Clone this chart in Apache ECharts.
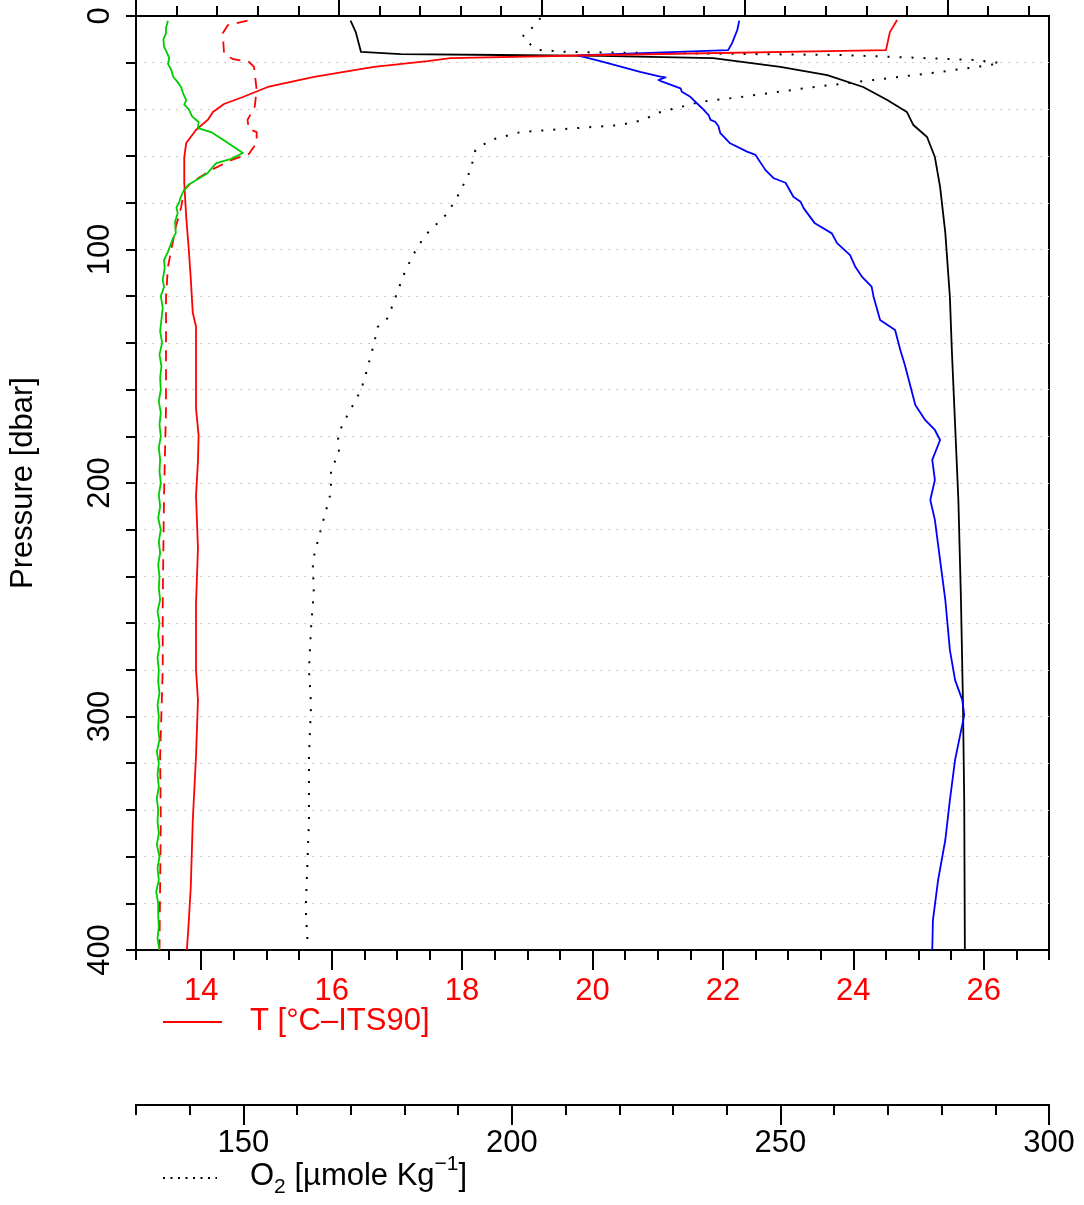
<!DOCTYPE html>
<html>
<head>
<meta charset="utf-8">
<script src="https://cdn.jsdelivr.net/npm/echarts@6/dist/echarts.min.js"></script>
<style>
html,body{margin:0;padding:0;background:#fff;}
#chart{width:1084px;height:1205px;}
</style>
</head>
<body>
<div id="chart"></div>
<script>
// ---- data (pressure in dbar) ----
// Temperature profile, T [°C-ITS90]
const tempP = [1.7,6.9,14.6,15.4,16.7,18.0,19.3,21.8,26.1,30.4,34.7,37.7,41.1,44.5,48.8,54.4,60.4,71.5,86.1,100.2,112.6,127,133,168,179.6,190.7,205.6,227.8,252,280,293,317,345,373,392,400];
const tempV = [24.67,24.56,24.50,24.48,20.2,17.82,17.47,16.65,15.73,15.02,14.64,14.35,14.18,14.10,13.92,13.77,13.74,13.74,13.77,13.81,13.84,13.87,13.92,13.92,13.96,13.95,13.92,13.95,13.92,13.92,13.95,13.92,13.87,13.84,13.80,13.78];
// Dashed red profile (in T-axis units)
const dashP = [2.0,3.9,7.4,16,18.5,19.6,21.8,31.7,38.9,44.5,48.4,49.7,54.4,59.1,61.7,66,71.5,74.5,82.2,90.4,100.2,107.5,120.3,168,205,250,280,317,345,400];
const dashV = [14.71,14.41,14.33,14.35,14.49,14.73,14.81,14.85,14.82,14.71,14.73,14.85,14.85,14.73,14.46,14.15,13.84,13.74,13.69,13.61,13.54,13.49,13.46,13.46,13.43,13.41,13.41,13.37,13.38,13.36];
// Green profile (in T-axis units)
const greenP = [2.0,5,7.4,10,13.1,15.5,18,20.5,23,26,28,30.4,33,36,38,40,43,45.4,48,49.7,52.4,58.7,61.2,63,67.2,72.4,75.4,78,80,82,84.4,88,93,95,97.2,101,104.5,108,113,116,120,125,130,135,140,145,150,155,160,165,170,175,180,185,190,195,200,205,210,215,220,225,230,235,240,245,250,255,260,265,270,275,280,285,290,295,300,305,310,315,320,325,330,335,340,345,350,355,360,365,370,375,380,385,390,395,400];
const greenV = [13.49,13.46,13.46,13.42,13.43,13.47,13.51,13.49,13.54,13.57,13.63,13.69,13.72,13.77,13.74,13.81,13.86,13.96,13.95,14.15,14.30,14.64,14.46,14.23,14.10,13.80,13.72,13.68,13.66,13.62,13.64,13.60,13.61,13.57,13.54,13.49,13.43,13.44,13.41,13.43,13.38,13.41,13.39,13.37,13.40,13.36,13.39,13.37,13.38,13.35,13.38,13.36,13.38,13.35,13.37,13.36,13.38,13.35,13.37,13.34,13.38,13.35,13.37,13.34,13.36,13.35,13.37,13.33,13.36,13.34,13.36,13.33,13.35,13.34,13.36,13.33,13.35,13.34,13.36,13.32,13.35,13.33,13.35,13.32,13.34,13.33,13.35,13.32,13.36,13.33,13.35,13.31,13.34,13.34,13.35,13.33,13.36];
// Black solid profile (in T-axis units)
const blackP = [2.0,6.9,15.4,16.3,16.7,17.1,18,21.8,25.3,30.4,36,41.1,46.7,51.8,60.4,73.2,92.9,120.3,143,207,250,293,336,400];
const blackV = [16.29,16.37,16.45,17.06,18.59,20.12,21.85,22.88,23.60,24.15,24.52,24.82,24.92,25.13,25.25,25.33,25.41,25.48,25.51,25.61,25.65,25.68,25.70,25.71];
// Blue profile (in T-axis units)
const blueP = [2.0,6.0,11.6,14.6,15.4,16.9,19.3,23.9,26.0,26.3,27.4,28.1,31.0,32.4,34.6,39.5,42.4,44.5,45.3,47.1,50.2,54.5,58.1,59.5,65.9,69.5,71.4,77.4,79.5,82.4,88.8,93.1,97.3,102.4,107.4,111.6,115.9,120.2,130.2,134.5,143,149.5,158,166.6,173,177.3,181.6,190.1,198.7,207.3,215.8,233,250.1,271.5,284.4,292.9,299.4,318.6,335.8,352.9,370,387.2,400];
const blueV = [22.25,22.22,22.14,22.08,22.08,19.77,20.12,20.73,21.04,21.12,21.01,21.07,21.35,21.37,21.50,21.68,21.78,21.81,21.88,21.93,21.96,22.11,22.37,22.50,22.65,22.78,22.96,23.08,23.19,23.24,23.41,23.67,23.75,23.95,24.03,24.13,24.28,24.31,24.41,24.64,24.72,24.79,24.87,24.95,25.10,25.25,25.33,25.21,25.25,25.18,25.25,25.33,25.41,25.48,25.56,25.67,25.70,25.56,25.48,25.41,25.30,25.22,25.21];
// Oxygen profile, O2 [µmole/kg]
const oxyP = [0.9,4.7,6.9,9.0,11.1,13.3,14.6,15.4,15.8,16.7,18.8,20.1,21,24,27.4,30.8,34.7,36.8,41.5,44.5,46.7,49.7,53.1,57.4,66,74.5,78.8,85.2,89.5,93.8,100.2,108.8,114.3,129.3,133.2,140.5,153.3,160.2,168.3,173.9,179.4,187.1,194.4,203.9,215,224.4,233.4,246.7,261.7,280,295,317.3,345.2,382.4,399];
const oxyV = [205.3,204.0,202.5,202.0,202.9,204.0,205.3,210.4,223.9,261.1,285.9,290.9,289.0,279.7,267.3,255.0,242.5,235.1,227.1,224.5,220.2,201.6,196.0,193.2,192.3,190.5,189.5,187.7,185.8,183.9,182.1,180.2,179.3,176.9,175.0,174.3,172.8,171.9,170.0,168.7,167.6,167.8,166.3,166.3,165.0,163.9,162.9,163.1,162.6,162.2,162.6,162.2,162.2,161.6,162.0];

// ---- axis ticks / labels ----
const tLabels = [14,16,18,20,22,24,26];
const oxyLabels = [150,200,250,300];
const pLabels = [0,100,200,300,400];
const topMajor = [0,1,2,3,4];
const topMinor = [0.2,0.4,0.6,0.8,1.2,1.4,1.6,1.8,2.2,2.4,2.6,2.8,3.2,3.4,3.6,3.8,4.2,4.4];

const zip = (xs, ps) => xs.map((v, i) => [v, ps[i]]);
const FONT = '"Liberation Sans", Arial, Helvetica, sans-serif';
const FS = 31;

const chart = echarts.init(document.getElementById('chart'), null, {renderer: 'canvas'});

const lineSeries = (name, xs, ps, color, xIdx, type, width) => ({
  name, type: 'line', xAxisIndex: xIdx, yAxisIndex: 0,
  data: zip(xs, ps), symbol: 'none', smooth: false, clip: true, animation: false,
  lineStyle: {color, width: width || 1.8, type: type || 'solid', cap: 'butt', join: 'round'}
});

const baseX = {
  gridIndex: 0, type: 'value', splitLine: {show: false},
  axisLine: {show: true, onZero: false, lineStyle: {color: '#000', width: 2}},
  axisLabel: {show: false}
};

const option = {
  animation: false,
  backgroundColor: '#fff',
  grid: {left: 135, top: 16, right: 35, bottom: 255, show: true, borderColor: '#000', borderWidth: 2, containLabel: false},
  xAxis: [
    Object.assign({}, baseX, {position: 'bottom', min: 13, max: 27,
      axisTick: {show: true, customValues: tLabels, length: 20, lineStyle: {color: '#000', width: 2}},
      axisLabel: {show: true, customValues: tLabels, color: '#ff0000', fontSize: FS, fontFamily: FONT, margin: 26}}),
    Object.assign({}, baseX, {position: 'bottom', min: 13, max: 27, interval: 0.5,
      axisTick: {show: true, length: 10, lineStyle: {color: '#000', width: 2}}}),
    Object.assign({}, baseX, {position: 'bottom', offset: 155, min: 130, max: 300,
      axisTick: {show: true, customValues: oxyLabels, length: 20, lineStyle: {color: '#000', width: 2}},
      axisLabel: {show: true, customValues: oxyLabels, color: '#000', fontSize: FS, fontFamily: FONT, margin: 23}}),
    Object.assign({}, baseX, {position: 'bottom', offset: 155, min: 130, max: 300, interval: 10,
      axisTick: {show: true, length: 10, lineStyle: {color: '#000', width: 2}}}),
    Object.assign({}, baseX, {position: 'top', min: 0, max: 4.5,
      axisTick: {show: true, customValues: topMajor, length: 25, lineStyle: {color: '#000', width: 2}}}),
    Object.assign({}, baseX, {position: 'top', min: 0, max: 4.5,
      axisTick: {show: true, customValues: topMinor, length: 10, lineStyle: {color: '#000', width: 2}}})
  ],
  yAxis: [{
    type: 'value', position: 'left', inverse: true, min: 0, max: 400, interval: 20,
    axisLine: {show: true, onZero: false, lineStyle: {color: '#000', width: 2}},
    axisTick: {show: true, length: 10, lineStyle: {color: '#000', width: 2}},
    axisLabel: {show: true, customValues: pLabels, rotate: 90, color: '#000', fontSize: FS, fontFamily: FONT, margin: 20},
    splitLine: {show: true, lineStyle: {color: '#c8c8c8', width: 1.2, type: [2, 6]}},
    name: 'Pressure [dbar]', nameLocation: 'middle', nameGap: 97,
    nameTextStyle: {color: '#000', fontSize: FS, fontFamily: FONT}
  }],
  series: [
    lineSeries('O2', oxyV, oxyP, '#000', 2, [2, 10], 2),
    lineSeries('blackline', blackV, blackP, '#000', 0),
    lineSeries('blueline', blueV, blueP, '#0000ff', 0),
    lineSeries('dashed', dashV, dashP, '#ff0000', 0, [11, 8]),
    lineSeries('T', tempV, tempP, '#ff0000', 0),
    lineSeries('green', greenV, greenP, '#00cd00', 0)
  ],
  graphic: [
    {type: 'line', shape: {x1: 163, y1: 1022, x2: 222, y2: 1022}, style: {stroke: '#ff0000', lineWidth: 2}},
    {type: 'text', left: 250, top: 1006, style: {text: 'T [°C–ITS90]', fill: '#ff0000', font: FS + 'px ' + FONT}},
    {type: 'line', shape: {x1: 163, y1: 1178, x2: 217, y2: 1178}, style: {stroke: '#000', lineWidth: 2, lineDash: [2, 5.5]}},
    {type: 'text', left: 250, top: 1154, style: {
      text: '{n|O}{sub|2}{n| [µmole Kg}{sup|−1}{n|]}',
      rich: {
        n: {fontSize: FS, fontFamily: FONT, fill: '#000', lineHeight: 44, verticalAlign: 'middle'},
        sub: {fontSize: 21, fontFamily: FONT, fill: '#000', lineHeight: 22, verticalAlign: 'bottom'},
        sup: {fontSize: 21, fontFamily: FONT, fill: '#000', lineHeight: 22, verticalAlign: 'top'}
      }
    }}
  ]
};
chart.setOption(option);
</script>
</body>
</html>
